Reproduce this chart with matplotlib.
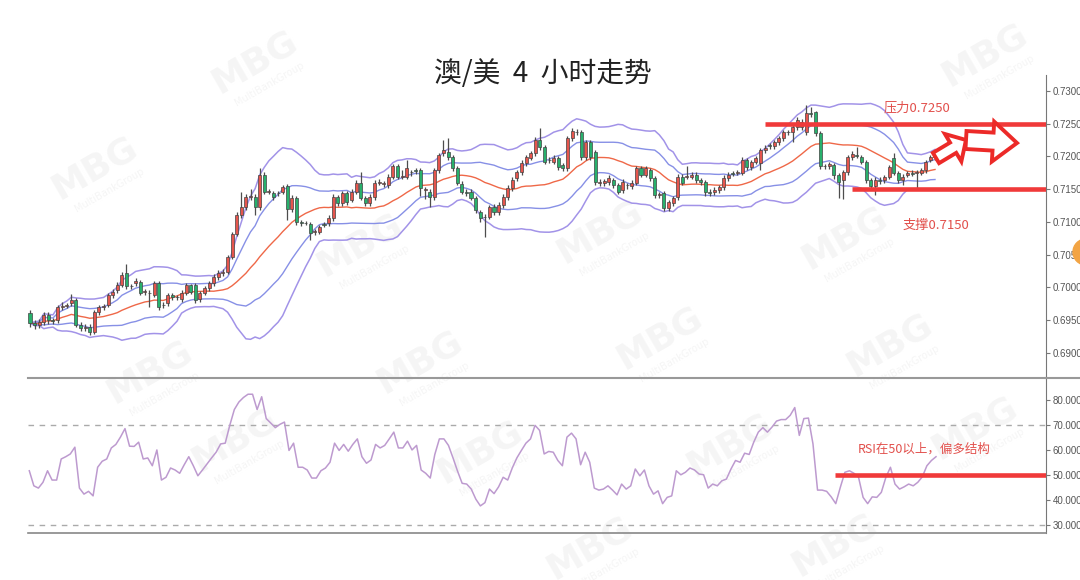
import numpy as np
import pandas as pd
import matplotlib
matplotlib.use('Agg')
import matplotlib.pyplot as plt
from matplotlib.patches import FancyArrow, Circle
from matplotlib.lines import Line2D
from matplotlib.transforms import IdentityTransform

plt.rcParams['font.family'] = ['Noto Sans CJK SC', 'DejaVu Sans']

# AUD/USD 4H candles
opens = [.6961, .6946, .6943, .6947, .6958, .6950, .6950, .6970, .6972, .6976,
         .6981, .6943, .6938, .6940, .6932, .6963, .6970, .6973, .6988, .6996,
         .7004, .7022, .7002, .7007, .7009, .6993, .6992, .6988, .7007, .6973,
         .6976, .6988, .6985, .6982, .6992, .7004, .7004, .6982, .6992, .6999,
         .7007, .7016, .7022, .7024, .7047, .7082, .7111, .7123, .7138, .7138,
         .7123, .7172, .7146, .7144, .7144, .7146, .7155, .7120, .7137, .7100,
         .7098, .7097, .7085, .7085, .7097, .7098, .7106, .7138, .7129, .7144,
         .7134, .7146,
         .7160, .7137, .7129, .7138, .7160, .7158, .7156, .7169,
         .7185, .7169, .7169, .7176, .7179, .7179, .7149, .7146, .7138, .7179,
         .7205, .7207, .7199, .7182, .7158, .7146, .7146, .7137, .7115, .7108,
         .7108, .7123, .7115, .7126, .7138, .7152, .7167, .7176, .7190, .7198,
         .7205, .7225, .7214, .7195, .7192, .7198, .7187, .7182, .7228, .7237,
         .7237, .7199, .7222, .7207, .7160, .7160, .7161, .7164, .7156, .7149,
         .7156, .7155, .7160, .7182, .7172, .7179, .7167, .7141, .7144, .7121,
         .7129, .7138, .7169, .7169, .7169, .7172, .7164,
         .7161, .7146, .7146,
         .7149, .7153, .7167, .7175, .7175, .7175, .7195, .7184, .7192, .7190,
         .7210, .7218, .7216, .7222, .7228, .7237, .7237, .7245, .7245, .7237,
         .7266, .7268, .7236, .7185, .7185, .7187, .7172, .7164, .7176, .7199,
         .7202, .7199, .7192, .7164, .7155, .7164, .7164, .7169, .7198, .7175,
         .7164, .7172, .7175, .7175, .7175, .7179, .7195, .7199]
closes = [.6946, .6943, .6947, .6958, .6950, .6949, .6970, .6972, .6973, .6981,
          .6943, .6938, .6940, .6932, .6963, .6970, .6971, .6988, .6993, .7004,
          .7019, .7002, .7003, .7010, .6992, .6994, .6991, .7007, .6970, .6974,
          .6988, .6985, .6986, .6992, .7004, .6993, .6981, .6992, .6999, .7007,
          .7016, .7022, .7024, .7047, .7082, .7111, .7123, .7138, .7139, .7123,
          .7172, .7146, .7147, .7138, .7145, .7153, .7120, .7137, .7100, .7098,
          .7099, .7083, .7086, .7092, .7096, .7106, .7138, .7129, .7144, .7130,
          .7146, .7160,
          .7137, .7129, .7138, .7160, .7161, .7159, .7169, .7185,
          .7169, .7170, .7182, .7177, .7178, .7152, .7150, .7138, .7179, .7202,
          .7210, .7199, .7182, .7160, .7146, .7145, .7137, .7118, .7106, .7107,
          .7123, .7115, .7126, .7138, .7152, .7164, .7176, .7190, .7199, .7205,
          .7225, .7214, .7192, .7194, .7198, .7184, .7182, .7228, .7239, .7238,
          .7199, .7222, .7199, .7161, .7161, .7162, .7167, .7156, .7146, .7161,
          .7157, .7160, .7182, .7172, .7182, .7167, .7141, .7142, .7121, .7130,
          .7137, .7169, .7160, .7170, .7172, .7164, .7161,
          .7146, .7145, .7149,
          .7153, .7167, .7172, .7174, .7176, .7195, .7184, .7192, .7198, .7210,
          .7213, .7216, .7222, .7228, .7237, .7238, .7245, .7256, .7253, .7266,
          .7265, .7236, .7185, .7186, .7189, .7172, .7161, .7176, .7199, .7204,
          .7201, .7192, .7164, .7155, .7164, .7163, .7169, .7184, .7175, .7164,
          .7169, .7175, .7174, .7176, .7179, .7192, .7199, .7205]
highs = [.6965, .6950, .6952, .6962, .6963, .6953, .6974, .6978, .6976, .6990,
         .6984, .6948, .6944, .6945, .6966, .6974, .6975, .6992, .6998, .7008,
         .7023, .7036, .7006, .7014, .7012, .6997, .6996, .7010, .7010, .6978,
         .6992, .6991, .6989, .6996, .7007, .7006, .7007, .6995, .7003, .7010,
         .7020, .7026, .7028, .7050, .7085, .7115, .7146, .7142, .7150, .7142,
         .7182, .7176, .7150, .7148, .7148, .7157, .7158, .7141, .7140, .7103,
         .7102, .7100, .7089, .7095, .7100, .7110, .7142, .7141, .7148, .7147,
         .7150, .7164,
         .7176, .7140, .7142, .7164, .7165, .7162, .7173, .7189,
         .7188, .7180, .7195, .7180, .7182, .7182, .7153, .7150, .7182, .7206,
         .7225, .7228, .7203, .7185, .7162, .7150, .7150, .7140, .7118, .7112,
         .7126, .7127, .7130, .7142, .7156, .7168, .7180, .7194, .7203, .7209,
         .7229, .7243, .7217, .7199, .7202, .7201, .7190, .7231, .7243, .7242,
         .7240, .7225, .7225, .7210, .7165, .7166, .7171, .7167, .7159, .7165,
         .7160, .7164, .7186, .7186, .7186, .7183, .7170, .7146, .7148, .7134,
         .7140, .7173, .7173, .7185, .7176, .7176, .7167,
         .7164, .7150, .7153,
         .7157, .7171, .7176, .7178, .7179, .7199, .7198, .7195, .7201, .7213,
         .7217, .7221, .7225, .7232, .7241, .7241, .7249, .7260, .7257, .7278,
         .7275, .7270, .7239, .7189, .7192, .7190, .7175, .7180, .7203, .7208,
         .7215, .7202, .7195, .7167, .7168, .7168, .7172, .7187, .7205, .7178,
         .7173, .7178, .7180, .7180, .7183, .7195, .7203, .7210]
lows = [.6940, .6937, .6938, .6943, .6945, .6945, .6946, .6966, .6968, .6972,
        .6940, .6933, .6934, .6927, .6929, .6958, .6966, .6970, .6984, .6992,
        .7000, .6998, .6998, .7002, .6988, .6988, .6970, .6985, .6966, .6969,
        .6972, .6981, .6981, .6978, .6988, .6990, .6977, .6978, .6988, .6995,
        .7003, .7012, .7018, .7020, .7044, .7078, .7106, .7118, .7133, .7110,
        .7118, .7143, .7142, .7134, .7140, .7142, .7103, .7115, .7096, .7094,
        .7095, .7072, .7080, .7081, .7092, .7094, .7102, .7125, .7125, .7126,
        .7130, .7142,
        .7133, .7125, .7125, .7134, .7156, .7154, .7152, .7165,
        .7165, .7165, .7165, .7170, .7174, .7140, .7135, .7123, .7134, .7175,
        .7200, .7195, .7178, .7156, .7142, .7140, .7133, .7113, .7100, .7077,
        .7104, .7111, .7111, .7122, .7134, .7148, .7163, .7172, .7186, .7194,
        .7201, .7210, .7188, .7190, .7188, .7180, .7178, .7178, .7224, .7233,
        .7195, .7195, .7195, .7157, .7155, .7155, .7157, .7152, .7142, .7145,
        .7150, .7151, .7156, .7168, .7168, .7163, .7137, .7136, .7117, .7117,
        .7125, .7134, .7156, .7165, .7165, .7160, .7157,
        .7140, .7140, .7141,
        .7145, .7149, .7163, .7170, .7171, .7171, .7180, .7180, .7188, .7180,
        .7206, .7212, .7212, .7218, .7224, .7233, .7222, .7241, .7240, .7233,
        .7260, .7232, .7181, .7181, .7181, .7165, .7137, .7135, .7172, .7195,
        .7198, .7188, .7160, .7150, .7141, .7158, .7160, .7165, .7171, .7160,
        .7157, .7168, .7170, .7150, .7171, .7175, .7191, .7195]

rsi = [51.6, 45.6, 44.7, 47.0, 51.6, 47.9, 47.9, 56.3, 57.2, 58.3,
       61.0, 44.7, 42.3, 43.4, 41.6, 53.0, 55.4, 56.3, 60.7, 62.1,
       65.0, 68.4, 61.4, 61.3, 63.0, 56.3, 56.7, 53.6, 59.9, 47.9,
       49.0, 52.7, 51.9, 50.6, 54.0, 57.2, 53.6, 49.6, 51.9, 54.3,
       56.7, 59.0, 62.3, 62.6, 69.7, 76.0, 79.0, 80.8, 82.1, 82.1,
       76.0, 81.1, 72.4, 70.6, 68.8, 70.1, 71.0, 59.7, 62.6, 53.0,
       53.0, 51.9, 48.7, 48.7, 51.6, 52.7, 55.0, 62.6, 59.7, 62.1,
       59.4, 62.1, 64.3, 57.2, 54.6, 55.9, 62.1, 60.7, 61.7, 64.3,
       67.0, 60.7, 60.7, 63.4, 59.9, 61.7, 51.9, 50.6, 48.7, 58.1,
       64.3, 64.3, 61.7, 56.7, 51.4, 46.6, 46.3, 44.3, 40.3, 37.6,
       38.9, 44.3, 42.5, 45.2, 49.0, 47.9, 52.7, 56.7, 59.7, 62.6,
       64.3, 69.7, 67.7,
       58.3, 59.3, 59.0, 55.7, 53.6, 65.0, 66.6, 64.3, 54.0, 59.0,
       55.0, 44.7, 43.9, 44.3, 45.6, 43.9, 42.0, 46.3, 44.3, 45.6,
       52.3, 49.6, 51.9, 45.6, 42.3, 43.6, 38.5, 41.0, 41.6, 51.6,
       50.0, 51.0, 52.7, 51.9, 50.3, 50.0, 44.7, 46.3, 45.6, 47.6,
       48.3, 52.3, 55.7, 55.0, 58.6, 58.1, 63.0, 67.0, 68.8, 67.0,
       69.0, 71.4, 72.0, 72.0, 73.7, 76.8, 65.7, 72.4, 72.6, 62.3,
       43.9, 43.9, 43.4, 41.2, 38.5, 45.0, 51.0, 51.6, 50.6, 49.0,
       41.0, 38.5, 41.2, 41.0, 43.0, 49.0, 53.0, 46.3, 44.3, 45.2,
       46.3, 45.6, 47.0, 49.2, 53.6, 55.7, 57.2]

price_ticks = [0.6900, 0.6950, 0.7000, 0.7050, 0.7100, 0.7150, 0.7200, 0.7250, 0.7300]
rsi_ticks = [30, 40, 50, 60, 70, 80]
resistance = 0.7250
support = 0.7150
rsi_bounds = [30, 70]
rsi_mid = 50

title = '澳/美  4  小时走势'
res_label = '压力0.7250'
sup_label = '支撑0.7150'
rsi_label = 'RSI在50以上，偏多结构'

# bollinger bands 20 / 1 and 2 std
s = pd.Series(closes)
mid = s.rolling(20, min_periods=1).mean()
sd = s.rolling(20, min_periods=1).std(ddof=0)

W, H = 1080, 580
fig = plt.figure(figsize=(W / 100, H / 100), dpi=100)
fig.patch.set_facecolor('white')

# watermark
wm = [(255, 62), (95, 168), (360, 245), (600, 232), (845, 238), (985, 55),
      (150, 372), (420, 362), (660, 338), (890, 345), (235, 440), (480, 452),
      (730, 445), (975, 428), (590, 548), (835, 545)]
for x, y in wm:
    fig.text(x / W, 1 - y / H, 'MBG', fontsize=26, fontweight='bold', color='#f5f5f5',
             rotation=30, ha='center', va='center', zorder=-5, family='DejaVu Sans')
    fig.text((x + 14) / W, 1 - (y + 22) / H, 'MultiBankGroup', fontsize=7, color='#f5f5f5',
             rotation=30, ha='center', va='center', zorder=-5, family='DejaVu Sans')

n = len(closes)
step = 905 / (n - 1)
ax1 = fig.add_axes([28 / W, 1 - 378 / H, 1018 / W, 303 / H])
ax1.patch.set_alpha(0)
x = np.arange(n)
o = np.array(opens)
c = np.array(closes)
up = c >= o
cols = np.where(up, '#e5554d', '#28b06c')
ax1.vlines(x, lows, highs, color='#4d4d4d', lw=0.9, zorder=2)
body = np.where(np.abs(c - o) < 0.00008, 0.00008, c - o)
ax1.bar(x, body, bottom=o, width=0.66, color=cols, edgecolor='#444444', lw=0.5, zorder=3)

ax1.plot(x, mid + 2 * sd, color='#a293e8', lw=1.1, zorder=1)
ax1.plot(x, mid - 2 * sd, color='#a293e8', lw=1.1, zorder=1)
ax1.plot(x, mid + sd, color='#8790e6', lw=1.0, zorder=1)
ax1.plot(x, mid - sd, color='#8790e6', lw=1.0, zorder=1)
ax1.plot(x, mid, color='#ef6848', lw=1.0, zorder=1)

xr = 1016 / step
ax1.set_xlim(-2 / step, xr)
ax1.set_ylim(0.68618, 0.73244)
ax1.hlines(resistance, 160, xr, color='#f03a3a', lw=3.3, zorder=4)
ax1.hlines(support, 179, xr, color='#f03a3a', lw=3.3, zorder=4)
ax1.text(185.7, 0.7274, res_label, color='#e2504c', fontsize=9.5, va='center', ha='left')
ax1.text(190, 0.70955, sup_label, color='#e2504c', fontsize=9.5, va='center', ha='left')

ax1.set_xticks([])
ax1.yaxis.tick_right()
ax1.set_yticks(price_ticks)
ax1.set_yticklabels(['%.4f' % t for t in price_ticks], family='Liberation Sans')
ax1.tick_params(axis='y', labelsize=7, labelcolor='#555555', color='#777777', length=3, pad=2)
for side in ['top', 'left', 'bottom']:
    ax1.spines[side].set_visible(False)
ax1.spines['right'].set_color('#777777')

# RSI panel
m = len(rsi)
rstep = 906.7 / (m - 1)
ax2 = fig.add_axes([28 / W, 1 - 533 / H, 1018 / W, 155 / H])
ax2.patch.set_alpha(0)
xr2 = (1046 - 29.3) / rstep
ax2.set_xlim(-1.3 / rstep, xr2)
ax2.set_ylim(26.8, 88.57)
for lv in rsi_bounds:
    ax2.axhline(lv, color='#aaaaaa', lw=1, ls=(0, (4, 4)), zorder=1)
ax2.plot(np.arange(m), rsi, color='#bd9acf', lw=1.1, zorder=2)
ax2.hlines(rsi_mid, 176.8, xr2, color='#f03a3a', lw=3.3, zorder=3)
ax2.text(181.9, 60.3, rsi_label, color='#e2504c', fontsize=9, va='center', ha='left')
ax2.set_xticks([])
ax2.yaxis.tick_right()
ax2.set_yticks(rsi_ticks)
ax2.set_yticklabels(['%.4f' % t for t in rsi_ticks], family='Liberation Sans')
ax2.tick_params(axis='y', labelsize=7, labelcolor='#555555', color='#777777', length=3, pad=2)
ax2.spines['left'].set_visible(False)
ax2.spines['top'].set_color('#999999')
ax2.spines['top'].set_linewidth(1.5)
ax2.spines['bottom'].set_color('#888888')
ax2.spines['bottom'].set_linewidth(1.2)
ax2.spines['right'].set_color('#777777')
fig.add_artist(Line2D([1046 / W, 1.0], [1 - 378 / H] * 2, color='#999999', lw=1.5))

# title
fig.text(543 / W, 1 - 74 / H, title, ha='center', va='center', fontsize=20,
         fontweight='light', color='#222222')

# arrows
idt = IdentityTransform()
fig.add_artist(FancyArrow(936, H - 158, 30, 18, width=12, head_width=32, head_length=15,
                          length_includes_head=True, transform=idt, fc='white',
                          ec='#ec2a28', lw=2.8, zorder=5))
fig.add_artist(FancyArrow(966, H - 140, 51, -3, width=18, head_width=40, head_length=24,
                          length_includes_head=True, transform=idt, fc='white',
                          ec='#ec2a28', lw=2.8, zorder=5))
fig.add_artist(Circle((1086, H - 252), 13, transform=idt, color='#f2a444', zorder=5))

fig.savefig('out.png', dpi=100)
